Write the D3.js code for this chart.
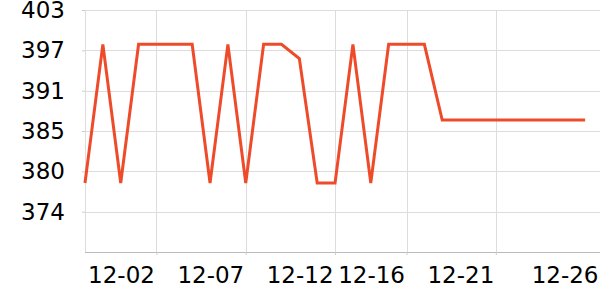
<!DOCTYPE html>
<html>
<head>
<meta charset="utf-8">
<script src="https://cdn.jsdelivr.net/npm/d3@7"></script>
<style>
    body { margin: 0; background: #fff; }
    svg { display: block; }
    .grid line { stroke: #dcdcdc; stroke-width: 1; }
    .axis text { font-family: "DejaVu Sans", sans-serif; font-size: 23px; fill: #000; }
</style>
</head>
<body>
<svg width="600" height="300"></svg>
<script>
// one value per day, 11-28 .. 12-26
const startDate = "2023-11-28";
const values = [
    378.1, 397.7, 378.1, 397.7, 397.7, 397.7, 397.7, 378.1, 397.7, 378.1,
    397.7, 397.7, 395.7, 378.1, 378.1, 397.7, 378.1, 397.7, 397.7, 397.7,
    387.0, 387.0, 387.0, 387.0, 387.0, 387.0, 387.0, 387.0, 387.0
];
const xTickDates = ["2023-12-02", "2023-12-07", "2023-12-12", "2023-12-16", "2023-12-21", "2023-12-26T20:00"];
const xTickLabels = ["12-02", "12-07", "12-12", "12-16", "12-21", "12-26"];
const yMin = 368.35, yStep = 5.7, yTickCount = 6;

const margin = { top: 10, right: 0, bottom: 48, left: 85 },
    width = 600 - margin.left - margin.right,
    height = 300 - margin.top - margin.bottom;

const parse = d3.isoParse;
const data = values.map((v, i) => ({ date: d3.timeDay.offset(parse(startDate), i), value: v }));
const xTicks = xTickDates.map(parse);
const yTicks = d3.range(1, yTickCount + 1).map(k => yMin + k * yStep);

let x = d3.scaleTime()
    .domain([parse(startDate), xTicks[xTicks.length - 1]])
    .range([0, width]);

let y = d3.scaleLinear()
    .domain([yMin, yMin + yTickCount * yStep])
    .range([height, 0]);

const svg = d3.select("svg")
    .append("g")
    .attr("transform", "translate(" + margin.left + "," + margin.top + ")");

// grid
svg.append("g")
    .attr("class", "grid")
    .selectAll("line.h")
    .data(yTicks)
    .enter()
    .append("line")
    .attr("x1", 0).attr("x2", width)
    .attr("y1", d => Math.round(y(d)) + 0.5).attr("y2", d => Math.round(y(d)) + 0.5);

svg.select(".grid")
    .selectAll("line.v")
    .data([parse(startDate)].concat(xTicks))
    .enter()
    .append("line")
    .attr("x1", d => Math.round(x(d)) + 0.5).attr("x2", d => Math.round(x(d)) + 0.5)
    .attr("y1", 0).attr("y2", height);

// axes
const xAxis = svg.append("g")
    .attr("class", "axis")
    .attr("transform", "translate(0," + height + ")")
    .call(d3.axisBottom(x)
        .tickValues(xTicks)
        .tickSize(3)
        .tickFormat((d, i) => xTickLabels[i]));
xAxis.attr("font-family", null).attr("font-size", null);
xAxis.select(".domain").attr("stroke", "#bbb").attr("d", "M0,0.5H" + width);
xAxis.selectAll(".tick line").attr("stroke", "#ccc");
xAxis.selectAll(".tick text")
    .attr("text-anchor", "end")
    .attr("x", -2)
    .attr("y", 31)
    .attr("dy", 0);

const yAxis = svg.append("g")
    .attr("class", "axis")
    .call(d3.axisLeft(y)
        .tickValues(yTicks)
        .tickSize(3)
        .tickPadding(17)
        .tickFormat(d => Math.round(d)));
yAxis.attr("font-family", null).attr("font-size", null);
yAxis.select(".domain").attr("stroke", "#ddd").attr("d", "M0.5,0V" + height);
yAxis.selectAll(".tick line").attr("stroke", "#ccc");

// line
svg.append("path")
    .datum(data)
    .attr("fill", "none")
    .attr("stroke", "#ee4b2b")
    .attr("stroke-width", 3)
    .attr("stroke-linejoin", "miter")
    .attr("d", d3.line()
        .x(d => x(d.date))
        .y(d => y(d.value)));
</script>
</body>
</html>
